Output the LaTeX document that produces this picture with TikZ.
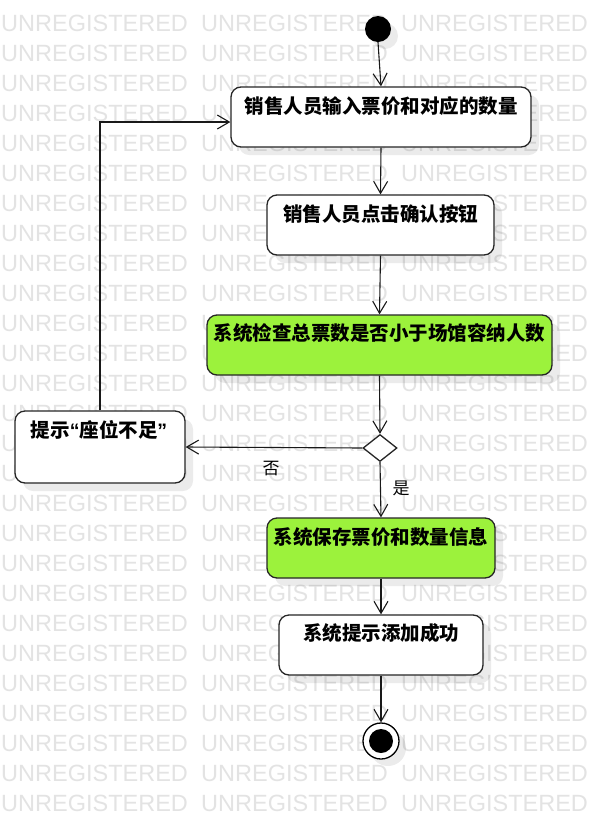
\documentclass[tikz,border=0pt]{standalone}
\usepackage{fontspec}
\setmainfont{Liberation Sans}
\newfontfamily\cjk{Noto Sans CJK SC}
\usetikzlibrary{arrows.meta,shapes.geometric,shadows}
\definecolor{actgreen}{RGB}{156,242,60}

\begin{document}
\begin{tikzpicture}[
			x=1pt, y=-1pt,
			>={Straight Barb[length=12pt,width=14pt]},
			wmark/.style={text=black!11, font=\fontsize{23.5}{24}\selectfont, inner sep=0pt, anchor=west},
			act/.style={draw=black!85, line width=1.3pt, rounded corners=10pt, fill=white,
			drop shadow={shadow xshift=8pt, shadow yshift=-8pt, fill=black, opacity=0.08}},
			acttext/.style={font=\cjk\bfseries\fontsize{19.5}{22}\selectfont, inner sep=0pt},
			guard/.style={font=\cjk\fontsize{17}{20}\selectfont, inner sep=0pt},
			flow/.style={->, line width=1.1pt, draw=black!90}
			]
			\useasboundingbox[fill=white] (0,0) rectangle (612,820);
			\foreach \r in {0,...,26}
				\foreach \c in {0,1,2}
					\node[wmark] (wm-\r-\c) at (\c*200+1, 23+\r*30) {UNREGISTERED};

			\node[circle, fill=black, inner sep=0pt, minimum size=26pt,
				drop shadow={shadow xshift=7pt, shadow yshift=-7pt, fill=black, opacity=0.08}] (start) at (378,29) {};
			\node[act, minimum width=300pt, minimum height=60pt] (input) at (381,117) {};
			\node[acttext] (input-t) at (381,106) {销售人员输入票价和对应的数量};
			\node[act, minimum width=227pt, minimum height=60pt] (confirm) at (380.5,225) {};
			\node[acttext] (confirm-t) at (380.5,214) {销售人员点击确认按钮};
			\node[act, fill=actgreen, minimum width=345pt, minimum height=60pt] (check) at (379.5,345) {};
			\node[acttext] (check-t) at (379.5,333) {系统检查总票数是否小于场馆容纳人数};
			\node[diamond, draw=black!85, line width=1.3pt, fill=white, inner sep=0pt,
				minimum width=34pt, minimum height=27pt] (enough) at (380,448) {};
			\node[act, minimum width=170pt, minimum height=72pt] (warn) at (100,447) {};
			\node[acttext] (warn-t) at (99,430) {提示{\rmfamily“}座位不足{\rmfamily”}};
			\node[act, fill=actgreen, minimum width=228pt, minimum height=60pt] (save) at (381,548) {};
			\node[acttext] (save-t) at (381,537) {系统保存票价和数量信息};
			\node[act, minimum width=204pt, minimum height=60pt] (done) at (381,645) {};
			\node[acttext] (done-t) at (381,633) {系统提示添加成功};
			\node[circle, draw=black, line width=1.3pt, fill=white, inner sep=0pt, minimum size=36pt,
				drop shadow={shadow xshift=7pt, shadow yshift=-7pt, fill=black, opacity=0.08}] (stop) at (381,741) {};
			\node[circle, fill=black, inner sep=0pt, minimum size=24pt] (stop-dot) at (stop) {};

			\draw[flow] (start.south) -- (input.north);
			\draw[flow] (input.south) -- (confirm.north);
			\draw[flow] (confirm.south) -- (check.north);
			\draw[flow] (check.south) -- (enough.north);
			\draw[flow] (enough.west) -- (warn.east);
			\draw[flow] (warn.north) |- ([yshift=-5pt]input.west);
			\draw[flow] (enough.south) -- (save.north);
			\draw[flow] (save.south) -- (done.north);
			\draw[flow] (done.south) -- (stop.north);
			\node[guard] (no) at (271,469) {否};
			\node[guard] (yes) at (401,488) {是};
		\end{tikzpicture}
\end{document}
